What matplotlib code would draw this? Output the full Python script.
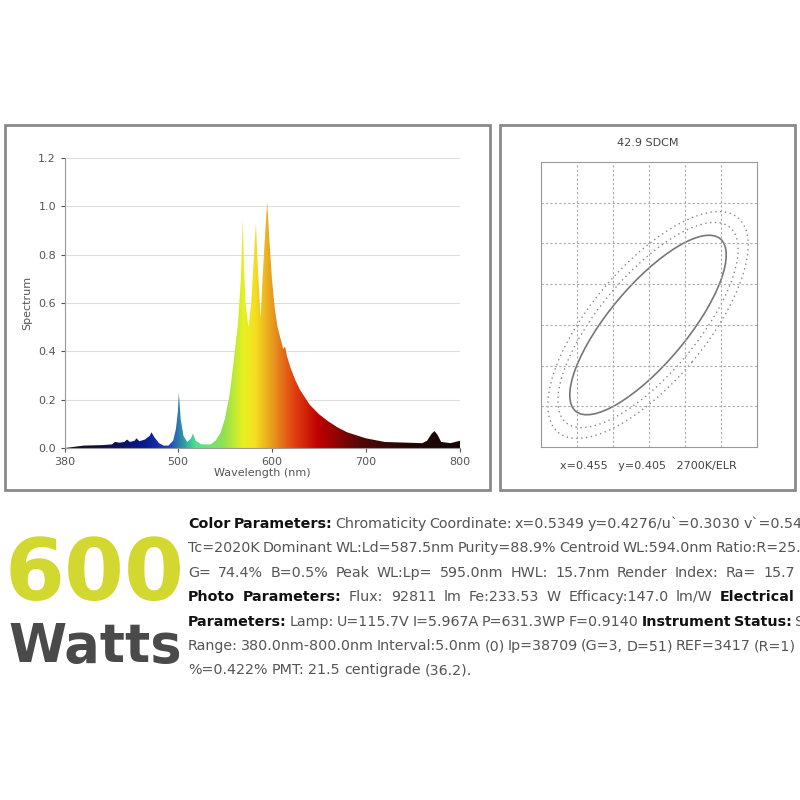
import numpy as np
import matplotlib
matplotlib.use("Agg")
import matplotlib.pyplot as plt
from matplotlib.colors import LinearSegmentedColormap
from matplotlib.patches import Rectangle, Ellipse, Polygon

wavelength = [380,390,400,420,430,433,438,443,446,449,454,456,459,465,470,472,475,480,485,490,495,498,500,501,503,506,510,514,516,519,525,535,540,545,550,555,560,564,567,569,570,572,575,578,581,583,585,588,590,593,595,597,600,603,606,610,612,614,616,620,625,630,640,650,660,670,680,700,720,760,765,770,773,776,780,790,800]
spectrum = [0,0.005,0.01,0.012,0.015,0.025,0.022,0.025,0.035,0.025,0.03,0.04,0.028,0.035,0.05,0.065,0.045,0.02,0.01,0.01,0.03,0.08,0.15,0.23,0.12,0.05,0.025,0.04,0.06,0.03,0.015,0.015,0.03,0.06,0.12,0.22,0.38,0.52,0.7,0.95,0.8,0.6,0.5,0.6,0.8,0.93,0.75,0.54,0.7,0.9,1.02,0.88,0.7,0.58,0.5,0.44,0.41,0.42,0.38,0.33,0.28,0.24,0.18,0.14,0.11,0.085,0.065,0.04,0.025,0.02,0.03,0.06,0.07,0.055,0.025,0.02,0.03]
x_ticks = [380,500,600,700,800]
y_ticks = [0.0,0.2,0.4,0.6,0.8,1.0,1.2]

lines = [
 [("Color Parameters:",True),("Chromaticity Coordinate: x=0.5349 y=0.4276/u`=0.3030 v`=0.5450",False)],
 [("Tc=2020K Dominant WL:Ld=587.5nm Purity=88.9% Centroid WL:594.0nm Ratio:R=25.1%",False)],
 [("G= 74.4% B=0.5% Peak WL:Lp= 595.0nm HWL: 15.7nm Render Index: Ra= 15.7",False)],
 [("Photo Parameters:",True),("Flux: 92811 lm Fe:233.53 W Efficacy:147.0 lm/W",False),("Electrical",True)],
 [("Parameters:",True),("Lamp: U=115.7V I=5.967A P=631.3WP F=0.9140",False),("Instrument Status:",True),("Scan",False)],
 [("Range: 380.0nm-800.0nm Interval:5.0nm (0) Ip=38709 (G=3, D=51) REF=3417 (R=1)",False)],
 [("%=0.422% PMT: 21.5 centigrade (36.2).",False)],
]

FONT = ['Liberation Sans Narrow','DejaVu Sans']
fig = plt.figure(figsize=(8,8), dpi=100)
fig.patch.set_facecolor('white')
def fx(x): return x/800
def fy(y): return 1-y/800

for (x0,y0,x1,y1) in [(5,125,490,490),(500,125,795,490)]:
    fig.patches.append(Rectangle((fx(x0),fy(y1)),fx(x1-x0),(y1-y0)/800,transform=fig.transFigure,
                                 fill=False,edgecolor='#8a8a8a',linewidth=2))

ax = fig.add_axes([fx(65),fy(448),fx(395),(448-158)/800])
cmap = LinearSegmentedColormap.from_list('spec',[(0,'#111111'),(0.1,'#101040'),(0.2,'#0a1a90'),(0.26,'#2040c0'),(0.3,'#30a0a0'),(0.33,'#50e090'),(0.4,'#90e050'),(0.45,'#e8f020'),(0.48,'#f5e020'),(0.52,'#e8a020'),(0.58,'#e04010'),(0.64,'#c00000'),(0.75,'#500808'),(0.88,'#200505'),(1,'#150808')])
poly = Polygon(list(zip(wavelength,spectrum))+[(800,0),(380,0)],closed=True,facecolor='none',edgecolor='none')
ax.add_patch(poly)
img = ax.imshow(np.linspace(0,1,500)[None,:],extent=[380,800,0,1.2],aspect='auto',cmap=cmap,zorder=2)
img.set_clip_path(poly)
ax.set_xlim(380,800); ax.set_ylim(0,1.2)
ax.set_xticks(x_ticks); ax.set_yticks(y_ticks)
ax.set_yticklabels([f"{v:.1f}" for v in y_ticks])
ax.grid(axis='y',color='#dddddd',linewidth=0.8); ax.set_axisbelow(True)
for s in ['top','right']: ax.spines[s].set_visible(False)
for s in ['left','bottom']: ax.spines[s].set_color('#999999')
ax.tick_params(colors='#555555',labelsize=8,length=3)
ax.set_xlabel('Wavelength (nm)',fontsize=8,color='#555555',labelpad=1,family=FONT)
ax.set_ylabel('Spectrum',fontsize=8,color='#555555',family=FONT)

# SDCM panel (pixel units)
ax2 = fig.add_axes([fx(541),fy(447),fx(216),(447-162)/800])
ax2.set_xlim(0,216); ax2.set_ylim(0,285)
for i in range(1,6): ax2.axvline(36*i,color='#aaaaaa',ls=(0,(2,2)),lw=0.8)
for j in range(1,7): ax2.axhline(40.7*j,color='#aaaaaa',ls=(0,(2,2)),lw=0.8)
ax2.add_patch(Ellipse((107,122),225,78,angle=50,fill=False,edgecolor='#777777',lw=1.2))
ax2.add_patch(Ellipse((107,122),255,98,angle=50,fill=False,edgecolor='#888888',lw=1,ls=(0,(1,2.5))))
ax2.add_patch(Ellipse((107,122),280,115,angle=50,fill=False,edgecolor='#888888',lw=1,ls=(0,(1,2.5))))
ax2.set_xticks([]); ax2.set_yticks([])
for s in ax2.spines.values(): s.set_color('#999999')
fig.text(fx(648),fy(143),'42.9 SDCM',ha='center',va='center',fontsize=8,color='#444444',family=FONT)
fig.text(fx(648),fy(466),'x=0.455   y=0.405   2700K/ELR',ha='center',va='center',fontsize=8,color='#444444',family=FONT)

fig.text(fx(5),fy(600),'600',fontsize=62,fontweight='bold',color='#d2d830',family=['DejaVu Sans'],va='baseline')
fig.text(fx(8),fy(662),'Watts',fontsize=38,fontweight='bold',color='#4a4a4a',family=['DejaVu Sans'],va='baseline')

fig.canvas.draw()
r = fig.canvas.get_renderer()
X0, X1 = 188, 795
ys = [524,548,573,597,622,646,670]
fs = 10.3
for li,(segs,y) in enumerate(zip(lines,ys)):
    words=[]
    for t,b in segs:
        for w in t.split(' '):
            if w: words.append((w,b))
    objs=[]; widths=[]
    for w,b in words:
        t = fig.text(0,fy(y),w,fontsize=fs,fontweight='bold' if b else 'normal',
                     color='#111111' if b else '#555555',family=FONT,va='center')
        widths.append(t.get_window_extent(r).width); objs.append(t)
    total=sum(widths)
    last = li==len(lines)-1
    gap = 4 if last or len(words)<2 else max(3,((X1-X0)-total)/(len(words)-1))
    x=X0
    for t,w in zip(objs,widths):
        t.set_x(fx(x)); x+=w+gap

fig.savefig('out.png',dpi=100,facecolor='white')
